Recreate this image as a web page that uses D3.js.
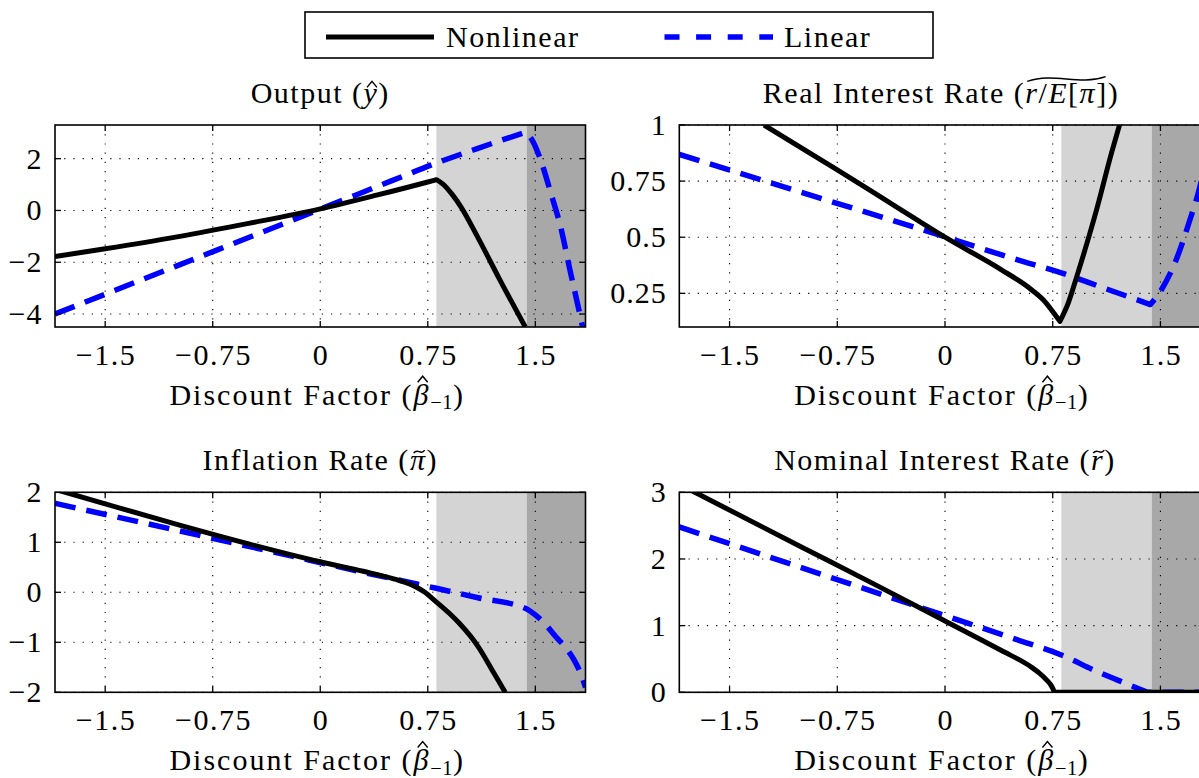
<!DOCTYPE html>
<html><head><meta charset="utf-8">
<script src="https://cdn.jsdelivr.net/npm/d3@7"></script>
<style>
body{margin:0;background:#fff;}
svg{display:block;overflow:hidden;}
text{font-family:"Liberation Serif","Times New Roman",serif;fill:#000;}
</style>
</head><body>
<svg id="chart" width="1199" height="778"></svg>
<script>
// ---------------- data ----------------
const xDomain = [-1.85, 1.85];
const xTicks = [-1.5, -0.75, 0, 0.75, 1.5];
const xTickLabels = ["\u22121.5", "\u22120.75", "0", "0.75", "1.5"];
const shadeLight = [0.81, 1.44];
const shadeDark = [1.44, 1.85];
const seriesNames = ["Nonlinear", "Linear"];

const outputNonlinear = [[-1.85,-1.78],[-1.5,-1.48],[-1.0,-1.02],[-0.5,-0.5],[0,0.06],[0.4,0.6],[0.75,1.1],[0.81,1.19],[0.86,1.0],[0.92,0.62],[0.98,0.15],[1.1,-1.05],[1.25,-2.65],[1.43,-4.5]];
const outputLinear = [[-1.85,-4.0],[-1.0,-2.14],[0,0.05],[0.5,1.15],[0.81,1.83],[1.1,2.4],[1.43,3.02],[1.48,2.7],[1.53,2.06],[1.61,0.64],[1.68,-0.71],[1.74,-2.26],[1.8,-3.74],[1.83,-4.5]];
const outputYTicks = [-4, -2, 0, 2];
const outputYLabels = ["\u22124", "\u22122", "0", "2"];

const realNonlinear = [[-1.26,1.0],[-0.75,0.8],[-0.35,0.64],[0,0.5],[0.39,0.356],[0.6,0.267],[0.7,0.21],[0.76,0.16],[0.8,0.125],[0.86,0.21],[0.92,0.33],[1.056,0.624],[1.16,0.877],[1.215,1.0]];
const realLinear = [[-1.85,0.869],[-1.0,0.70],[0,0.502],[0.5,0.40],[0.81,0.341],[1.1,0.275],[1.43,0.2],[1.508,0.267],[1.61,0.4],[1.706,0.579],[1.77,0.713],[1.85,0.95]];
const realYTicks = [0.25, 0.5, 0.75, 1];
const realYLabels = ["0.25", "0.5", "0.75", "1"];

const inflationNonlinear = [[-1.85,2.06],[-1.5,1.77],[-1.0,1.36],[-0.5,0.97],[0,0.61],[0.3,0.42],[0.5,0.28],[0.65,0.13],[0.73,0.0],[0.8,-0.17],[0.9,-0.42],[0.97,-0.62],[1.1,-1.08],[1.21,-1.61],[1.29,-2.0]];
const inflationLinear = [[-1.85,1.78],[-1.0,1.24],[-0.3,0.79],[0.3,0.40],[0.81,0.08],[1.1,-0.11],[1.43,-0.32],[1.5,-0.45],[1.57,-0.64],[1.64,-0.88],[1.71,-1.1],[1.77,-1.35],[1.82,-1.65],[1.85,-1.9]];
const inflationYTicks = [-2, -1, 0, 1, 2];
const inflationYLabels = ["\u22122", "\u22121", "0", "1", "2"];

const nominalNonlinear = [[-1.85,3.12],[-1.0,2.18],[-0.5,1.63],[0,1.07],[0.39,0.63],[0.6,0.38],[0.65,0.3],[0.71,0.18],[0.74,0.1],[0.763,0],[1.85,0]];
const nominalLinear = [[-1.85,2.48],[-1.0,1.87],[0,1.15],[0.5,0.79],[0.81,0.56],[1.06,0.31],[1.25,0.14],[1.41,0],[1.85,0]];
const nominalYTicks = [0, 1, 2, 3];
const nominalYLabels = ["0", "1", "2", "3"];

// ---------------- layout ----------------
const svg = d3.select("#chart");
const FS = 30;
const layout = [
  {x0:55, x1:585.5, y0:125, y1:327, yDomain:[-4.5,3.3], nl:outputNonlinear, li:outputLinear, yt:outputYTicks, yl:outputYLabels,
   title:[{t:"Output ("},{t:"y",it:true,acc:"hat"},{t:")"}]},
  {x0:679.3, x1:1210.7, y0:125, y1:327, yDomain:[0.1,1], nl:realNonlinear, li:realLinear, yt:realYTicks, yl:realYLabels,
   title:[{t:"Real Interest Rate ("},{t:"r",it:true,w0:true},{t:"/"},{t:"E",it:true},{t:"["},{t:"\u03C0",it:true},{t:"]",w1:true},{t:")"}], wide:true},
  {x0:55, x1:585.5, y0:492.3, y1:692.3, yDomain:[-2,2], nl:inflationNonlinear, li:inflationLinear, yt:inflationYTicks, yl:inflationYLabels,
   title:[{t:"Inflation Rate ("},{t:"\u03C0",it:true,acc:"tilde"},{t:")"}]},
  {x0:679.3, x1:1210.7, y0:492.3, y1:692.3, yDomain:[0,3], nl:nominalNonlinear, li:nominalLinear, yt:nominalYTicks, yl:nominalYLabels,
   title:[{t:"Nominal Interest Rate ("},{t:"r",it:true,acc:"tilde"},{t:")"}]}
];

function accent(g, cx, cy, type, w) {
  if (type === "hat") {
    g.append("path").attr("d", `M${cx-5},${cy+3}L${cx},${cy-3}L${cx+5},${cy+3}`)
      .attr("fill","none").attr("stroke","#000").attr("stroke-width",1.4);
  } else {
    const hw = (w || 11) / 2, h = w ? 4 : 2.5;
    g.append("path").attr("d", `M${cx-hw},${cy+h*0.6}C${cx-hw*0.3},${cy-h*1.8} ${cx+hw*0.3},${cy+h*1.8} ${cx+hw},${cy-h*0.6}`)
      .attr("fill","none").attr("stroke","#000").attr("stroke-width",1.4);
  }
}

function rich(g, cx, y, parts, size, ls) {
  const grp = g.append("g");
  let x = 0; const items = [];
  parts.forEach(p => {
    const fs = p.sub ? size * 0.68 : size;
    const t = grp.append("text").attr("x", x).attr("y", y + (p.sub ? size * 0.14 : 0))
      .attr("font-size", fs).style("font-style", p.it ? "italic" : "normal")
      .style("letter-spacing", (p.sub ? 0.5 : ls) + "px").text(p.t);
    const w = t.node().getComputedTextLength();
    items.push({x, w, p});
    x += w;
  });
  grp.attr("transform", `translate(${cx - x/2},0)`);
  items.forEach(it => {
    if (it.p.acc) {
      const off = it.p.it ? size * 0.06 : 0;
      const ay = it.p.tall ? y - size * 0.86 : y - size * 0.62;
      accent(grp, it.x + it.w/2 + off - ls/2, ay, it.p.acc);
    }
  });
  return {grp, items};
}

// split a pixel polyline into smooth pieces at extrema / sharp corners
function pieces(pts) {
  const out = []; let cur = [pts[0]];
  for (let i = 1; i < pts.length; i++) {
    cur.push(pts[i]);
    if (i < pts.length - 1) {
      const a = pts[i-1], b = pts[i], c = pts[i+1];
      const s1 = b[1] - a[1], s2 = c[1] - b[1];
      const ang1 = Math.atan2(b[1]-a[1], b[0]-a[0]), ang2 = Math.atan2(c[1]-b[1], c[0]-b[0]);
      const sharp = Math.abs(ang1 - ang2) > 0.45;
      const ext = (Math.abs(s1) > 0.5 && Math.abs(s2) > 0.5 && Math.sign(s1) !== Math.sign(s2)) || (Math.abs(s1) > 0.5) !== (Math.abs(s2) > 0.5);
      if (sharp || ext) { out.push(cur); cur = [pts[i]]; }
    }
  }
  out.push(cur);
  return out;
}

layout.forEach((L, i) => {
  const g = svg.append("g");
  const x = d3.scaleLinear().domain(xDomain).range([L.x0, L.x1]);
  const y = d3.scaleLinear().domain(L.yDomain).range([L.y1, L.y0]);
  const clipId = "clip" + i;
  svg.append("clipPath").attr("id", clipId).append("rect")
    .attr("x", L.x0).attr("y", L.y0).attr("width", L.x1 - L.x0).attr("height", L.y1 - L.y0);

  // shading
  g.append("rect").attr("x", x(shadeLight[0])).attr("y", L.y0).attr("width", x(shadeLight[1]) - x(shadeLight[0]))
    .attr("height", L.y1 - L.y0).attr("fill", "#d4d4d4");
  g.append("rect").attr("x", x(shadeDark[0])).attr("y", L.y0).attr("width", x(shadeDark[1]) - x(shadeDark[0]))
    .attr("height", L.y1 - L.y0).attr("fill", "#a8a8a8");

  // grid
  const grid = g.append("g").attr("stroke", "#000").attr("stroke-width", 1.1).attr("stroke-dasharray", "1.2,8");
  xTicks.forEach(v => grid.append("line").attr("x1", x(v)).attr("x2", x(v)).attr("y1", L.y0).attr("y2", L.y1));
  L.yt.forEach(v => grid.append("line").attr("x1", L.x0).attr("x2", L.x1).attr("y1", y(v)).attr("y2", y(v)));

  // lines: smooth monotone pieces joined at corners
  const seg = d3.line().curve(d3.curveMonotoneX);
  const pathFor = data => {
    const px = data.map(d => [x(d[0]), y(d[1])]);
    return pieces(px).map((p, k) => { const s = seg(p); return k ? "L" + s.slice(1) : s; }).join("");
  };
  const lines = g.append("g").attr("clip-path", `url(#${clipId})`);
  lines.append("path").attr("d", pathFor(L.li)).attr("fill", "none").attr("stroke", "#0000ff")
    .attr("stroke-width", 5.5).attr("stroke-dasharray", "21,11").attr("stroke-linejoin", "round");
  lines.append("path").attr("d", pathFor(L.nl)).attr("fill", "none").attr("stroke", "#000")
    .attr("stroke-width", 5).attr("stroke-linejoin", "round");

  // frame & ticks
  g.append("rect").attr("x", L.x0).attr("y", L.y0).attr("width", L.x1 - L.x0).attr("height", L.y1 - L.y0)
    .attr("fill", "none").attr("stroke", "#000").attr("stroke-width", 1.6);
  const tk = g.append("g").attr("stroke", "#000").attr("stroke-width", 1.3);
  xTicks.forEach(v => {
    tk.append("line").attr("x1", x(v)).attr("x2", x(v)).attr("y1", L.y1).attr("y2", L.y1 - 6);
    tk.append("line").attr("x1", x(v)).attr("x2", x(v)).attr("y1", L.y0).attr("y2", L.y0 + 6);
  });
  L.yt.forEach(v => {
    tk.append("line").attr("x1", L.x0).attr("x2", L.x0 + 6).attr("y1", y(v)).attr("y2", y(v));
    tk.append("line").attr("x1", L.x1).attr("x2", L.x1 - 6).attr("y1", y(v)).attr("y2", y(v));
  });

  // tick labels
  xTicks.forEach((v, k) => g.append("text").attr("x", x(v) + 0.75).attr("y", L.y1 + 38).attr("text-anchor", "middle")
    .attr("font-size", FS).style("letter-spacing", "1.5px").text(xTickLabels[k]));
  L.yt.forEach((v, k) => g.append("text").attr("x", L.x0 - 12.5).attr("y", y(v) + 10).attr("text-anchor", "end")
    .attr("font-size", FS).style("letter-spacing", "1px").text(L.yl[k]));

  // x label
  const cx = x(0);
  rich(g, cx - 3, L.y1 + 78, [{t:"Discount Factor ("},{t:"\u03B2",it:true,acc:"hat",tall:true},{t:"\u22121",sub:true},{t:")"}], 30, 2);

  // title
  const ty = L.y0 - 22;
  const r = rich(g, cx - (L.wide ? 4 : 0), ty, L.title, 30, 1.5);
  if (L.wide) {
    const a = r.items.find(d => d.p.w0), b = r.items.find(d => d.p.w1);
    const xa = a.x + 2, xb = b.x + b.w - 2;
    accent(r.grp, (xa + xb) / 2, ty - 30 * 0.8, "tilde", xb - xa);
  }
});

// ---------------- legend ----------------
const lg = svg.append("g");
lg.append("rect").attr("x", 305).attr("y", 12).attr("width", 628).attr("height", 46)
  .attr("fill", "#fff").attr("stroke", "#000").attr("stroke-width", 1.6);
lg.append("line").attr("x1", 326).attr("x2", 434).attr("y1", 37).attr("y2", 37).attr("stroke", "#000").attr("stroke-width", 5);
lg.append("text").attr("x", 446).attr("y", 47).attr("font-size", 30).style("letter-spacing", "1.5px").text(seriesNames[0]);
lg.append("line").attr("x1", 664.5).attr("x2", 773).attr("y1", 37).attr("y2", 37).attr("stroke", "#0000ff")
  .attr("stroke-width", 5.5).attr("stroke-dasharray", "15,16.6");
lg.append("text").attr("x", 784).attr("y", 47).attr("font-size", 30).style("letter-spacing", "1.5px").text(seriesNames[1]);
</script>
</body></html>
